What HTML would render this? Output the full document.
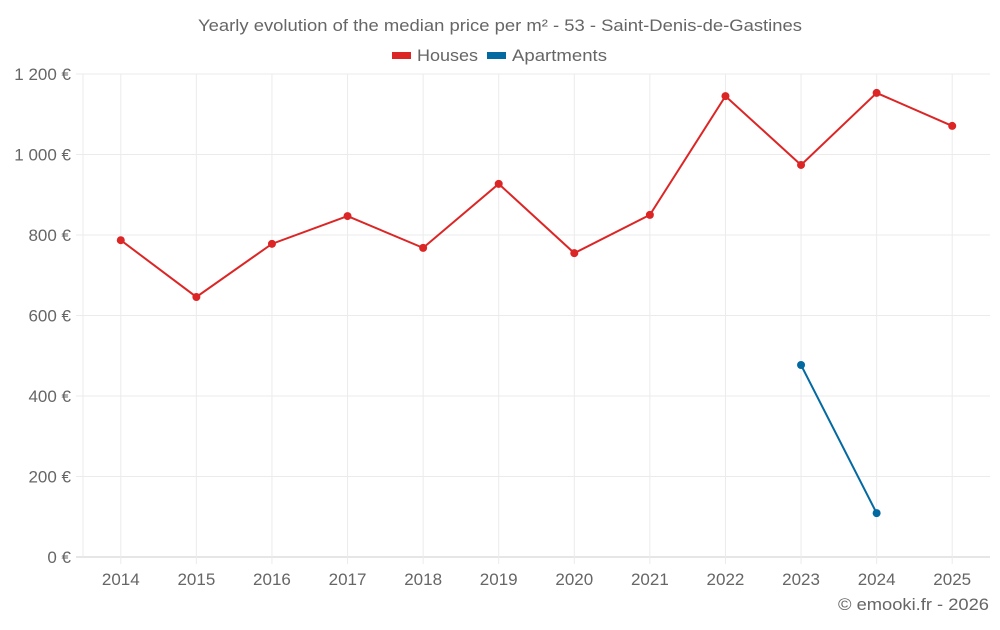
<!DOCTYPE html>
<html><head><meta charset="utf-8"><style>
body{margin:0;background:#fff;font-family:"Liberation Sans",sans-serif;}
svg text{font-family:"Liberation Sans",sans-serif;fill:#666;}
</style></head><body>
<svg id="c" width="1000" height="625">
<text x="198" y="31" font-size="17" textLength="604" lengthAdjust="spacingAndGlyphs">Yearly evolution of the median price per m² - 53 - Saint-Denis-de-Gastines</text>
<g><rect x="392" y="52" width="19" height="7" fill="#dc2626"/><text x="417" y="61" font-size="17" textLength="61" lengthAdjust="spacingAndGlyphs">Houses</text></g>
<g><rect x="487" y="52" width="19" height="7" fill="#0369a1"/><text x="512" y="61" font-size="17" textLength="95" lengthAdjust="spacingAndGlyphs">Apartments</text></g>
<g id="grid"></g><g id="marks"></g>
<text x="838" y="610" font-size="17" textLength="151" lengthAdjust="spacingAndGlyphs">© emooki.fr - 2026</text>
</svg>
<script>
const years=[2014,2015,2016,2017,2018,2019,2020,2021,2022,2023,2024,2025];
const houses=[787,646,778,847,768,927,755,850,1145,974,1153,1071];
const apartments=[null,null,null,null,null,null,null,null,null,477,109,null];
const yTicks=[0,200,400,600,800,1000,1200];
const yTickLabels=["0 €","200 €","400 €","600 €","800 €","1 000 €","1 200 €"];
const NS="http://www.w3.org/2000/svg";
const L=83,R=990,T=74,B=557;
const bw=(R-L)/years.length;
const x=i=>L+bw*(i+0.5);
const y=v=>B-(v/1200)*(B-T);
function mk(t,a,p){const e=document.createElementNS(NS,t);for(const k in a)e.setAttribute(k,a[k]);p.appendChild(e);return e;}
const g=document.getElementById('grid'),m=document.getElementById('marks');
yTicks.forEach((v,i)=>{
 const ln=mk('line',{x1:76,x2:R,y1:y(v),y2:y(v),stroke:i==0?'#ccc':'#ebebeb'},g);
 
 
 const t=mk('text',{x:71,y:y(v)+6,'text-anchor':'end','font-size':17},g);t.textContent=yTickLabels[i];
 
 
});
mk('line',{x1:L,x2:L,y1:T,y2:B,stroke:'#ebebeb'},g);
years.forEach((yr,i)=>{
 const ln=mk('line',{x1:x(i),x2:x(i),y1:T,y2:B+7,stroke:'#ebebeb'},g);
 
 
 const t=mk('text',{x:x(i),y:585,'text-anchor':'middle','font-size':17},g);t.textContent=yr;
 
 
});
function series(vals,col,name){
 let d='';vals.forEach((v,i)=>{if(v==null)return;d+=(d?'L':'M')+x(i)+' '+y(v);});
 const p=mk('path',{d:d,fill:'none',stroke:col,'stroke-width':2},m);
 
 
 vals.forEach((v,i)=>{if(v==null)return;
  const c=mk('circle',{cx:x(i),cy:y(v),r:4,fill:col},m);
  
  
 });
}
series(houses,'#dc2626','houses');
series(apartments,'#0369a1','apartments');
</script>
</body></html>
